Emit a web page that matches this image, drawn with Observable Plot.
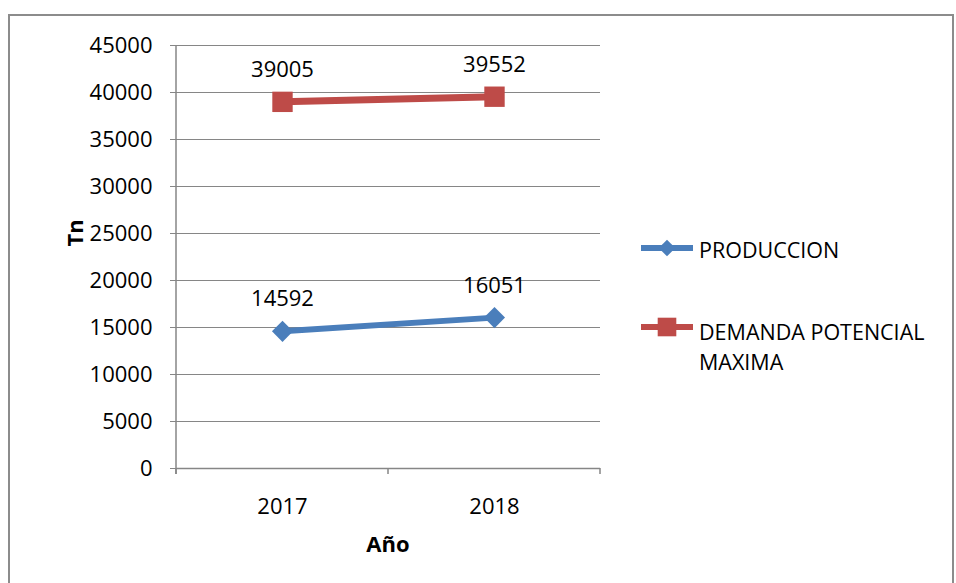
<!DOCTYPE html>
<html><head><meta charset="utf-8">
<script src="https://cdn.jsdelivr.net/npm/d3@7"></script>
<script src="https://cdn.jsdelivr.net/npm/@observablehq/plot@0.6"></script>
<style>
body{margin:0;background:#fff;}
#wrap{position:relative;width:956px;height:583px;overflow:hidden;}
#border{position:absolute;left:8px;top:14px;width:946px;height:600px;border:2px solid #8c8c8c;box-sizing:border-box;}
#chart{position:absolute;left:0;top:0;}
</style></head><body><div id="wrap"><div id="border"></div><div id="chart"></div></div>
<script>
const years = ["2017", "2018"];
const seriesNames = ["PRODUCCION", "DEMANDA POTENCIAL MAXIMA"];
const produccion = [14592, 16051];
const demanda = [39005, 39552];
const yTicks = [0, 5000, 10000, 15000, 20000, 25000, 30000, 35000, 40000, 45000];
const colors = ["#4A7EBB", "#BE4B48"];
const xTitle = "Año";
const yTitle = "Tn";

const prodData = years.map((yr, i) => ({year: yr, series: seriesNames[0], value: produccion[i]}));
const demData = years.map((yr, i) => ({year: yr, series: seriesNames[1], value: demanda[i]}));
const allData = prodData.concat(demData);

const font = "'Open Sans', sans-serif";
const fs = 22;
const gray = "#868686";

const chart = Plot.plot({
  width: 956, height: 583,
  marginLeft: 176, marginRight: 356, marginTop: 45, marginBottom: 115,
  style: {fontFamily: font, fontSize: fs + "px", color: "#000", background: "transparent"},
  x: {type: "band", domain: years, padding: 0, label: null},
  y: {domain: [0, 45000], label: null},
  marks: [
    Plot.gridY(yTicks, {stroke: gray, strokeOpacity: 1, strokeWidth: 1}),
    Plot.ruleY([0], {stroke: gray, strokeWidth: 1.5}),
    Plot.axisY(yTicks, {tickSize: 6, tickPadding: 18, stroke: gray, strokeOpacity: 1, fontSize: fs, fill: "#000", tickFormat: d3.format("d"), label: null}),
    Plot.axisX({tickSize: 0, tickPadding: 30, fontSize: fs, fill: "#000", label: null}),
    Plot.line(prodData, {x: "year", y: "value", stroke: colors[0], strokeWidth: 6}),
    Plot.line(demData, {x: "year", y: "value", stroke: colors[1], strokeWidth: 7}),
    Plot.dot(prodData, {x: "year", y: "value", symbol: "diamond2", r: 9.5, fill: colors[0], stroke: null}),
    Plot.dot(demData, {x: "year", y: "value", symbol: "square", r: 11.5, fill: colors[1], stroke: null}),
    Plot.text(allData, {x: "year", y: "value", text: d => String(d.value), dy: -32, fontSize: fs, fill: "#000"})
  ]
});
document.getElementById("chart").appendChild(chart);

const svg = d3.select(chart);
const xs = chart.scale("x");
const ys = chart.scale("y");
const x0 = xs.range[0], x1 = xs.range[1];
const yb = ys.apply(0), yt = ys.apply(45000);
// y axis line
svg.append("line").attr("x1", x0).attr("x2", x0).attr("y1", yt).attr("y2", yb + 6)
  .attr("stroke", gray).attr("stroke-width", 1.5);
// category boundary ticks
const edges = years.map(y => xs.apply(y)).concat([xs.apply(years[years.length - 1]) + xs.bandwidth]);
edges.forEach(e => svg.append("line").attr("x1", e).attr("x2", e).attr("y1", yb).attr("y2", yb + 6)
  .attr("stroke", gray).attr("stroke-width", 1.5));
// titles
svg.append("text").attr("x", (x0 + x1) / 2).attr("y", 552).attr("text-anchor", "middle")
  .attr("font-family", font).attr("font-size", fs).attr("font-weight", "bold").text(xTitle);
svg.append("text").attr("transform", "translate(83,233) rotate(-90)").attr("text-anchor", "middle")
  .attr("font-family", font).attr("font-size", fs).attr("font-weight", "bold").text(yTitle);
// legend
const leg = svg.append("g").attr("font-family", font).attr("font-size", 21.5).attr("text-anchor", "start");
const legY = [248, 327];
const legBase = [[258], [340, 370]];
const legLines = [["PRODUCCION"], ["DEMANDA POTENCIAL", "MAXIMA"]];
const syms = [d3.symbolDiamond2, d3.symbolSquare];
const symSize = [Math.PI * 7.5 * 7.5, Math.PI * 10.5 * 10.5];
seriesNames.forEach((s, i) => {
  leg.append("line").attr("x1", 641).attr("x2", 693).attr("y1", legY[i]).attr("y2", legY[i])
    .attr("stroke", colors[i]).attr("stroke-width", 6);
  leg.append("path").attr("d", d3.symbol(syms[i], symSize[i])()).attr("transform", `translate(667,${legY[i]})`)
    .attr("fill", colors[i]);
  legLines[i].forEach((t, j) => leg.append("text").attr("x", 699).attr("y", legBase[i][j]).text(t));
});
</script></body></html>
